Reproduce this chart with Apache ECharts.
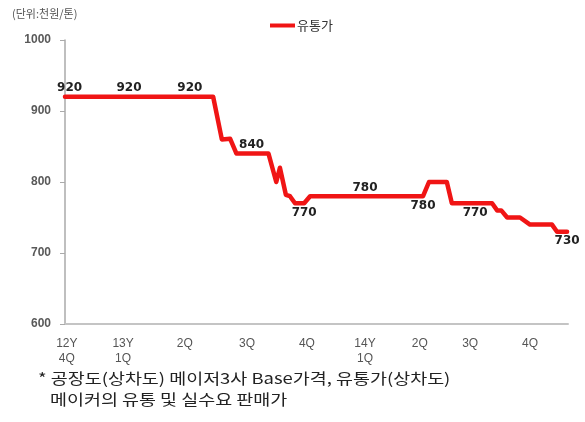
<!DOCTYPE html>
<html>
<head>
<meta charset="utf-8">
<script src="https://cdn.jsdelivr.net/npm/echarts@6/dist/echarts.min.js"></script>
<style>
html,body{margin:0;padding:0;background:#fff;}
#chart{width:585px;height:422px;}
</style>
</head>
<body>
<div id="chart"></div>
<script>
// ---- data (x in weeks from 2012 Q4) ----
const weeks  = [0, 1, 14, 27.3, 32.4, 34.3, 36.1, 37.5, 40.8, 44.5, 46.2, 47.0, 48.3, 49.2, 50.3, 52.3, 53.6, 65.6, 78.3, 79.6, 83.5, 84.6, 89.7, 93.4, 94.5, 95.4, 96.7, 99.5, 101.7, 106.5, 107.6, 109.8];
const prices = [920, 920, 920, 920, 920, 860, 861, 840, 840, 840, 800, 820, 782, 780, 770, 770, 780, 780, 780, 800, 800, 770, 770, 770, 760, 760, 750, 750, 740, 740, 730, 730];
const labelAbove = [1, 14, 27.3, 40.8, 65.6];
const labelBelow = [52.3, 78.3, 89.7, 109.8];
const xTickWeeks = [0.4, 12.7, 26.2, 39.8, 52.9, 65.6, 77.6, 88.6, 101.7];
const xTickLabels = ['12Y\n4Q', '13Y\n1Q', '2Q', '3Q', '4Q', '14Y\n1Q', '2Q', '3Q', '4Q'];
const seriesName = '유통가';
const unitText = '(단위:천원/톤)';
const noteLines = ['* 공장도(상차도) 메이저3사 Base가격, 유통가(상차도)', '메이커의 유통 및 실수요 판매가'];

const labelStyle = {fontFamily: 'DejaVu Sans', fontWeight: 'bold', fontSize: 12, color: '#222', formatter: p => p.value[1]};
const seriesData = weeks.map((w, i) => {
  const d = {value: [w, prices[i]]};
  if (labelAbove.includes(w)) d.label = Object.assign({show: true, position: 'top', distance: 2}, labelStyle);
  else if (labelBelow.includes(w)) d.label = Object.assign({show: true, position: 'bottom', distance: 3}, labelStyle);
  return d;
});

const noteFont = '"Noto Sans CJK KR", sans-serif';
const chart = echarts.init(document.getElementById('chart'), null, {renderer: 'canvas'});
chart.setOption({
  animation: false,
  backgroundColor: '#fff',
  title: {
    text: unitText, left: 12, top: 8, padding: 0,
    textStyle: {fontSize: 11, fontWeight: 'normal', color: '#555', fontFamily: 'Noto Sans CJK KR'}
  },
  legend: {
    data: [seriesName], left: 270, top: 19, padding: 0, icon: 'rect', itemWidth: 25, itemHeight: 4, itemGap: 4,
    textStyle: {fontSize: 13, color: '#333', fontFamily: 'Noto Sans CJK KR', padding: [0, 0, 0, -3]}
  },
  grid: {left: 65, right: 17, top: 40, bottom: 98, containLabel: false},
  xAxis: {
    type: 'value', min: 0, max: 110,
    axisLine: {show: true, onZero: false, lineStyle: {color: '#c4c4c4', width: 2}},
    axisTick: {show: false},
    splitLine: {show: false},
    axisLabel: {
      customValues: xTickWeeks,
      margin: 12, lineHeight: 15, fontSize: 12, color: '#555', fontFamily: 'Liberation Sans',
      formatter: v => { const i = xTickWeeks.indexOf(v); return i >= 0 ? xTickLabels[i] : ''; }
    }
  },
  yAxis: {
    type: 'value', min: 600, max: 1000, interval: 100,
    axisLine: {show: true, lineStyle: {color: '#aaa', width: 1.5}},
    axisTick: {show: true, length: 5, lineStyle: {color: '#aaa'}},
    splitLine: {show: false},
    axisLabel: {margin: 14, fontSize: 12, fontWeight: 'bold', color: '#595959', fontFamily: 'Liberation Sans',
      formatter: v => String(v)}
  },
  series: [{
    name: seriesName, type: 'line', data: seriesData,
    showSymbol: true, symbol: 'circle', symbolSize: 1,
    itemStyle: {color: '#f01515'},
    lineStyle: {color: '#f01515', width: 4.5, join: 'round', cap: 'round'},
    label: {show: false}
  }],
  graphic: [
    {type: 'text', left: 38, top: 371, scaleX: 1.23, originX: 0, originY: 0,
     style: {text: noteLines[0], fontSize: 15, fill: '#222', fontFamily: noteFont}},
    {type: 'text', left: 50, top: 392, scaleX: 1.23, originX: 0, originY: 0,
     style: {text: noteLines[1], fontSize: 15, fill: '#222', fontFamily: noteFont}}
  ]
});
</script>
</body>
</html>
